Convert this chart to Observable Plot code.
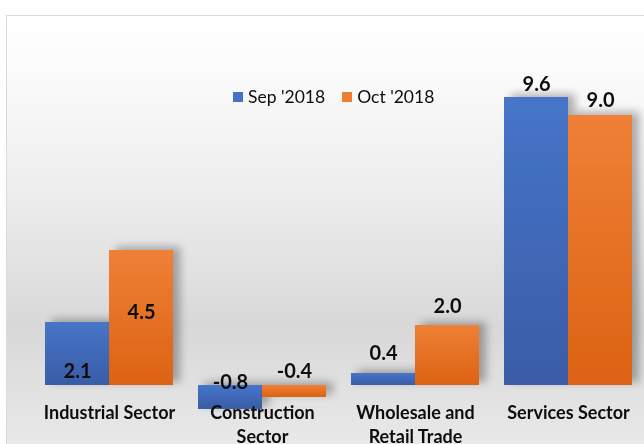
<!DOCTYPE html>
<html>
<head>
<meta charset="utf-8">
<script src="https://cdn.jsdelivr.net/npm/d3@7"></script>
<script src="https://cdn.jsdelivr.net/npm/@observablehq/plot@0.6"></script>
<style>
  body { margin: 0; background: #fff; font-family: Lato, "Open Sans", sans-serif; }
  #wrap { position: relative; width: 644px; height: 444px; overflow: hidden; }
  #bg { position: absolute; left: 6px; top: 15px; width: 700px; height: 500px;
        border: 1px solid #dadada;
        background: linear-gradient(to bottom, #ffffff 0%, #fbfbfb 11%, #ececec 37%, #d8d8d8 62%, #e9e9e9 86%, #ececec 100%); }
  #chart { position: absolute; left: 0; top: 0; }
  #legend { position: absolute; left: 233px; top: 86px; display: flex; align-items: center;
            font-size: 17.5px; color: #0d0d0d; }
  #legend .item { display: flex; align-items: center; margin-right: 17px; }
  #legend .sw { width: 10px; height: 10px; margin-right: 5px; }
</style>
</head>
<body>
<div id="wrap">
  <div id="bg"></div>
  <div id="chart"></div>
  <div id="legend"></div>
</div>
<script>
const categories = ["Industrial Sector", "Construction Sector", "Wholesale and Retail Trade", "Services Sector"];
const tickLabels = ["Industrial Sector", "Construction\nSector", "Wholesale and\nRetail Trade", "Services Sector"];
const series = ["Sep '2018", "Oct '2018"];
const sepValues = [2.1, -0.8, 0.4, 9.6];
const octValues = [4.5, -0.4, 2.0, 9.0];

const rows = categories.flatMap((c, i) => [
  {cat: c, s: series[0], v: sepValues[i]},
  {cat: c, s: series[1], v: octValues[i]}
]);

// label offsets (px) relative to bar end, in rows order
const labelDy = [49, 62, -27, -26, -20, -19, -13, -15];
const fills = {[series[0]]: "url(#gBlue)", [series[1]]: "url(#gOrange)"};
const swatch = {[series[0]]: "#4472c4", [series[1]]: "#ed7d31"};

const chart = Plot.plot({
  width: 644,
  height: 444,
  marginLeft: 43,
  marginRight: 10,
  marginTop: 52,
  marginBottom: 44,
  style: {background: "transparent", overflow: "visible", fontFamily: "Lato, sans-serif"},
  fx: {domain: categories, paddingInner: 0.162, paddingOuter: 0, axis: null},
  x: {domain: series, padding: 0, axis: null},
  y: {domain: [-0.5, 11.1], axis: null},
  marks: [
    ...series.map(s => Plot.barY(rows.filter(d => d.s === s), {
      fx: "cat", x: "s", y: "v", fill: fills[s]
    })),
    ...rows.map((r, i) => Plot.text([r], {
      fx: "cat", x: "s", y: "v", text: d => d.v.toFixed(1),
      dy: labelDy[i], fontSize: 20, fontWeight: "bold", fill: "#0d0d0d"
    })),
    Plot.text(categories, {
      fx: d => d, text: (d, i) => tickLabels[i], frameAnchor: "bottom",
      lineAnchor: "top", dy: 1, lineHeight: 1.36, fontSize: 18, fontWeight: "bold", fill: "#0d0d0d"
    })
  ]
});

const svg = d3.select(chart);
svg.insert("defs", ":first-child").html(`
  <linearGradient id="gBlue" x1="0" y1="0" x2="0" y2="1">
    <stop offset="0" stop-color="#4675c9"/>
    <stop offset="1" stop-color="#3a5ca6"/>
  </linearGradient>
  <linearGradient id="gOrange" x1="0" y1="0" x2="0" y2="1">
    <stop offset="0" stop-color="#ef8036"/>
    <stop offset="1" stop-color="#dc6213"/>
  </linearGradient>
  <filter id="sh" x="-10%" y="-10%" width="130%" height="130%">
    <feGaussianBlur in="SourceAlpha" stdDeviation="4"/>
    <feOffset dx="7" dy="-3" result="b"/>
    <feComponentTransfer><feFuncA type="linear" slope="0.3"/></feComponentTransfer>
    <feMerge><feMergeNode/><feMergeNode in="SourceGraphic"/></feMerge>
  </filter>`);
svg.selectAll('g[aria-label="bar"]').attr("filter", "url(#sh)");

document.getElementById("chart").appendChild(chart);

const legend = document.getElementById("legend");
series.forEach(s => {
  const item = document.createElement("div");
  item.className = "item";
  item.innerHTML = `<span class="sw" style="background:${swatch[s]}"></span><span>${s}</span>`;
  legend.appendChild(item);
});
</script>
</body>
</html>
